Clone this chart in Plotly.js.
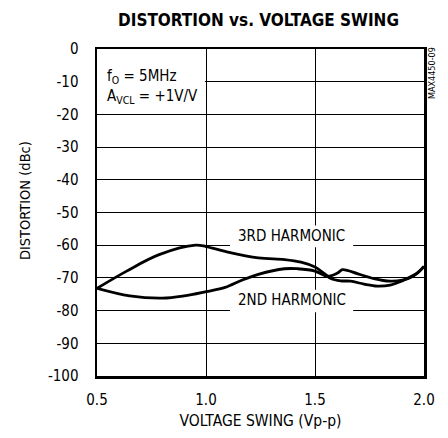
<!DOCTYPE html>
<html><head><meta charset="utf-8">
<script src="https://cdn.plot.ly/plotly-3.0.1.min.js"></script>
<style>html,body{margin:0;padding:0;background:#fff}#c{width:448px;height:438px}</style>
</head><body><div id="c"></div>
<script>
const xTicks = [0.5, 1.0, 1.5, 2.0];
const xTickLabels = ["0.5", "1.0", "1.5", "2.0"];
const yTicks = [0, -10, -20, -30, -40, -50, -60, -70, -80, -90, -100];
const yTickLabels = ["0", "-10", "-20", "-30", "-40", "-50", "-60", "-70", "-80", "-90", "-100"];

const h3x = [0.5, 0.634, 0.785, 0.952, 1.0, 1.088, 1.24, 1.36, 1.436, 1.5, 1.543, 1.573, 1.618, 1.663, 1.725, 1.786, 1.845, 1.89, 1.936, 1.97, 2.0];
const h3y = [-73.2, -68, -62.9, -60, -60.4, -61.9, -63.9, -64.4, -65.2, -66.7, -68.7, -70.2, -70.9, -71.0, -71.9, -72.5, -72.2, -71.2, -69.7, -68.5, -66.5];

const h2x = [0.5, 0.65, 0.8, 0.9, 1.0, 1.088, 1.164, 1.24, 1.36, 1.42, 1.5, 1.558, 1.603, 1.625, 1.648, 1.694, 1.77, 1.845, 1.9, 1.95, 2.0];
const h2y = [-73.2, -75.5, -76.2, -75.5, -74.2, -72.9, -70.7, -68.9, -67.2, -67.2, -67.9, -69.5, -68.5, -67.5, -67.7, -68.7, -70.2, -71.0, -70.7, -69.5, -66.5];

const font = "'DejaVu Sans Condensed', 'Liberation Sans Narrow', sans-serif";
const black = '#000';

const traces = [
  {x: h3x, y: h3y, mode: 'lines', line: {color: black, width: 2.8, shape: 'spline', smoothing: 1}, name: '3RD HARMONIC', hoverinfo: 'skip'},
  {x: h2x, y: h2y, mode: 'lines', line: {color: black, width: 2.8, shape: 'spline', smoothing: 1}, name: '2ND HARMONIC', hoverinfo: 'skip'}
];

const layout = {
  width: 448, height: 438,
  margin: {l: 97, r: 24, t: 49, b: 62},
  paper_bgcolor: '#fff', plot_bgcolor: '#fff',
  showlegend: false,
  font: {family: font, color: black, size: 14},
  title: {text: '<b>DISTORTION vs. VOLTAGE SWING</b>', x: 0.577, xanchor: 'center', y: 0.954, yanchor: 'middle', font: {family: font, size: 17, color: black}},
  xaxis: {
    range: [0.5, 2.0], tickvals: xTicks, ticktext: xTickLabels, ticks: '',
    showgrid: true, gridcolor: black, gridwidth: 1, zeroline: false,
    showline: true, linecolor: black, linewidth: 2.5, mirror: true,
    tickfont: {family: font, size: 15, color: black}, ticklabelstandoff: 8,
    title: {text: 'VOLTAGE SWING (Vp-p)', font: {family: font, size: 15.5, color: black}, standoff: 8}
  },
  yaxis: {
    range: [-100, 0], tickvals: yTicks, ticktext: yTickLabels, ticks: '',
    showgrid: true, gridcolor: black, gridwidth: 1, zeroline: false,
    showline: true, linecolor: black, linewidth: 2.5, mirror: true,
    tickfont: {family: font, size: 15, color: black}, ticklabelstandoff: 13
  },
  shapes: [
    {type: 'rect', layer: 'between', xref: 'x', yref: 'y', x0: 1.11, x1: 1.675, y0: -60.6, y1: -54, fillcolor: '#fff', line: {width: 0}},
    {type: 'rect', layer: 'between', xref: 'x', yref: 'y', x0: 1.11, x1: 1.675, y0: -80.5, y1: -73.6, fillcolor: '#fff', line: {width: 0}},
    {type: 'rect', layer: 'between', xref: 'x', yref: 'y', x0: 0.5, x1: 0.995, y0: -18.5, y1: -4.5, fillcolor: '#fff', line: {width: 0}}
  ],
  annotations: [
    {x: -0.22, y: 0.535, xref: 'paper', yref: 'paper', xanchor: 'center', yanchor: 'middle', text: 'DISTORTION (dBc)', textangle: -90, showarrow: false, font: {family: font, size: 14.5, color: black}},
    {x: 1.393, y: -57.1, xref: 'x', yref: 'y', text: '3RD HARMONIC', showarrow: false, font: {family: font, size: 15, color: black}},
    {x: 1.393, y: -76.8, xref: 'x', yref: 'y', text: '2ND HARMONIC', showarrow: false, font: {family: font, size: 15, color: black}},
    {x: 0.5, y: -11.4, xref: 'x', yref: 'y', xanchor: 'left', xshift: 8, align: 'left', text: 'f<sub>O</sub> = 5MHz<br>A<sub>VCL</sub> = +1V/V', showarrow: false, font: {family: font, size: 15, color: black}},
    {x: 1.0245, y: 0.9266, xref: 'paper', yref: 'paper', xanchor: 'center', yanchor: 'middle', text: 'MAX4450-09', textangle: -90, showarrow: false, font: {family: font, size: 9, color: black}}
  ]
};

Plotly.newPlot('c', traces, layout, {staticPlot: true, displayModeBar: false});
</script></body></html>
